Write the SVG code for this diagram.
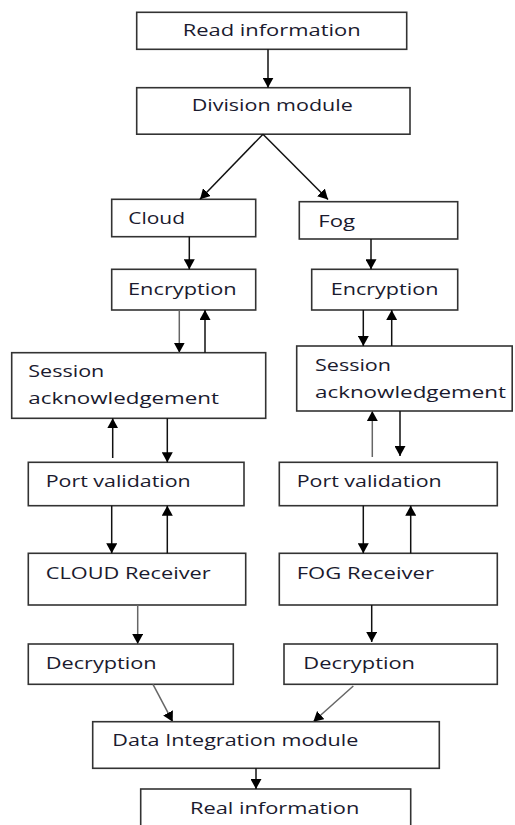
<svg xmlns="http://www.w3.org/2000/svg" width="515" height="825" viewBox="0 0 515 825">
<defs>
<marker id="ah" markerUnits="userSpaceOnUse" markerWidth="10" markerHeight="11" refX="10" refY="5.5" orient="auto" viewBox="0 0 10 11">
<path d="M0,0 L10,5.5 L0,11 z" fill="#000"/>
</marker>
</defs>
<style>
.box{fill:#fff;stroke:#333;stroke-width:1.6}
.t{font-family:"Open Sans","Noto Sans",sans-serif;font-size:16px;fill:#1a1a2e}
.c{stroke:#111;stroke-width:1.5;fill:none;marker-end:url(#ah)}
.g{stroke:#666}
</style>
<rect width="515" height="825" fill="#fff"/>
<g id="read"><rect class="box" x="136.7" y="12.3" width="270" height="37"/><text class="t" x="182.7" y="36" textLength="178" lengthAdjust="spacingAndGlyphs">Read information</text></g>
<g id="division"><rect class="box" x="136.7" y="87.7" width="273.3" height="46.5"/><text class="t" x="191.7" y="111" textLength="161" lengthAdjust="spacingAndGlyphs">Division module</text></g>
<g id="cloud"><rect class="box" x="111.7" y="199.3" width="144" height="37.4"/><text class="t" x="128.3" y="223.5" textLength="56.7" lengthAdjust="spacingAndGlyphs">Cloud</text></g>
<g id="fog"><rect class="box" x="299.3" y="201.7" width="158.4" height="37.3"/><text class="t" x="318.3" y="226.5" textLength="36.7" lengthAdjust="spacingAndGlyphs">Fog</text></g>
<g id="encL"><rect class="box" x="111.7" y="269.3" width="144" height="40.7"/><text class="t" x="128" y="294.5" textLength="108.7" lengthAdjust="spacingAndGlyphs">Encryption</text></g>
<g id="encR"><rect class="box" x="311.7" y="269.3" width="146" height="40.7"/><text class="t" x="330.7" y="294.5" textLength="107.7" lengthAdjust="spacingAndGlyphs">Encryption</text></g>
<g id="sessL"><rect class="box" x="11.7" y="352.7" width="254" height="65.6"/><text class="t" x="28.3" y="377" textLength="76" lengthAdjust="spacingAndGlyphs">Session</text><text class="t" x="28.3" y="403.5" textLength="190.7" lengthAdjust="spacingAndGlyphs">acknowledgement</text></g>
<g id="sessR"><rect class="box" x="296.7" y="346" width="215.5" height="65"/><text class="t" x="315" y="371" textLength="76" lengthAdjust="spacingAndGlyphs">Session</text><text class="t" x="315" y="397.5" textLength="191" lengthAdjust="spacingAndGlyphs">acknowledgement</text></g>
<g id="portL"><rect class="box" x="28.3" y="462.3" width="215.7" height="43.4"/><text class="t" x="45.7" y="486.5" textLength="145" lengthAdjust="spacingAndGlyphs">Port validation</text></g>
<g id="portR"><rect class="box" x="279.3" y="462.3" width="218" height="43.4"/><text class="t" x="296.7" y="486.5" textLength="145" lengthAdjust="spacingAndGlyphs">Port validation</text></g>
<g id="cloudRx"><rect class="box" x="28.3" y="553.3" width="217.4" height="51.7"/><text class="t" x="45.7" y="578.5" textLength="165" lengthAdjust="spacingAndGlyphs">CLOUD Receiver</text></g>
<g id="fogRx"><rect class="box" x="279.3" y="553.3" width="218" height="51.7"/><text class="t" x="296.7" y="578.5" textLength="137.3" lengthAdjust="spacingAndGlyphs">FOG Receiver</text></g>
<g id="decL"><rect class="box" x="28.3" y="644" width="205" height="40.3"/><text class="t" x="45.7" y="668.5" textLength="111" lengthAdjust="spacingAndGlyphs">Decryption</text></g>
<g id="decR"><rect class="box" x="284" y="644" width="213.3" height="40.3"/><text class="t" x="303.3" y="668.5" textLength="111.7" lengthAdjust="spacingAndGlyphs">Decryption</text></g>
<g id="dataInt"><rect class="box" x="92.7" y="721.7" width="346.6" height="46.6"/><text class="t" x="112.3" y="745.5" textLength="246" lengthAdjust="spacingAndGlyphs">Data Integration module</text></g>
<g id="real"><rect class="box" x="140.7" y="789" width="270" height="45"/><text class="t" x="190" y="813.5" textLength="169.3" lengthAdjust="spacingAndGlyphs">Real information</text></g>
<g id="connectors">
<line class="c" x1="268" y1="49.3" x2="268" y2="87.7"/>
<line class="c" x1="263" y1="134.2" x2="200" y2="199.3"/>
<line class="c" x1="263" y1="134.2" x2="328" y2="199.5"/>
<line class="c" x1="189.3" y1="236.7" x2="189.3" y2="269.3"/>
<line class="c" x1="371" y1="239" x2="371" y2="269.3"/>
<line class="c g" x1="179.3" y1="310" x2="179.3" y2="352.7"/>
<line class="c" x1="205" y1="352.7" x2="205" y2="310"/>
<line class="c" x1="363.3" y1="310" x2="363.3" y2="346"/>
<line class="c" x1="391.7" y1="346" x2="391.7" y2="310"/>
<line class="c" x1="112.7" y1="458" x2="112.7" y2="418.3"/>
<line class="c" x1="167.3" y1="418.3" x2="167.3" y2="462.3"/>
<line class="c g" x1="372.3" y1="457" x2="372.3" y2="411"/>
<line class="c" x1="400" y1="411" x2="400" y2="456"/>
<line class="c" x1="111.7" y1="505.7" x2="111.7" y2="553.3"/>
<line class="c" x1="167.3" y1="553.3" x2="167.3" y2="505.7"/>
<line class="c" x1="363.3" y1="505.7" x2="363.3" y2="553.3"/>
<line class="c" x1="410.7" y1="553.3" x2="410.7" y2="505.7"/>
<line class="c g" x1="137.7" y1="605" x2="137.7" y2="644"/>
<line class="c" x1="371.7" y1="605" x2="371.7" y2="642"/>
<line class="c g" x1="153" y1="684.3" x2="172.7" y2="721.7"/>
<line class="c g" x1="353.3" y1="686" x2="313.3" y2="721.7"/>
<line class="c" x1="256" y1="768.3" x2="256" y2="789"/>
</g>
</svg>
